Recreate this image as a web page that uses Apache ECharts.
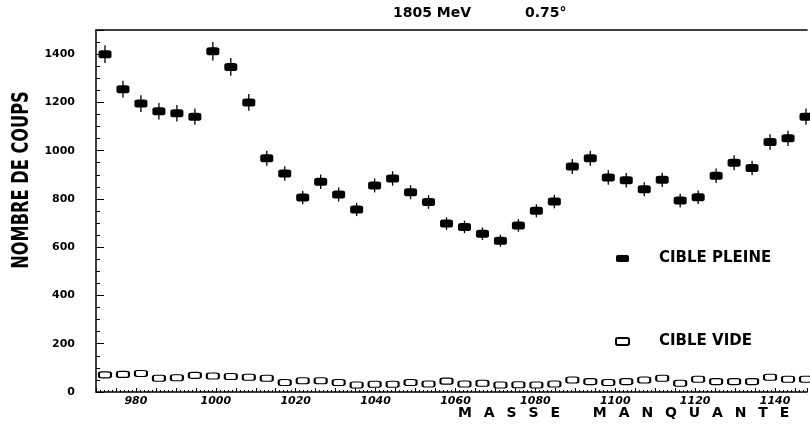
<!DOCTYPE html>
<html>
<head>
<meta charset="utf-8">
<script src="https://cdn.jsdelivr.net/npm/echarts@6/dist/echarts.min.js"></script>
<style>
html,body{margin:0;padding:0;background:#fff;}
#c{width:810px;height:426px;}
</style>
</head>
<body>
<div id="c"></div>
<script>
// bin centres (MeV)
var masses = [972.25, 976.75, 981.25, 985.75, 990.25, 994.75, 999.25, 1003.75, 1008.25, 1012.75,
  1017.25, 1021.75, 1026.25, 1030.75, 1035.25, 1039.75, 1044.25, 1048.75, 1053.25, 1057.75,
  1062.25, 1066.75, 1071.25, 1075.75, 1080.25, 1084.75, 1089.25, 1093.75, 1098.25, 1102.75,
  1107.25, 1111.75, 1116.25, 1120.75, 1125.25, 1129.75, 1134.25, 1138.75, 1143.25, 1147.75];
// full target counts
var pleine = [1400, 1255, 1195, 1163, 1155, 1141, 1412, 1347, 1200, 969,
  905, 806, 871, 818, 756, 856, 885, 828, 787, 698,
  684, 656, 627, 690, 751, 789, 934, 969, 889, 877,
  840, 879, 793, 807, 896, 950, 928, 1036, 1051, 1141];
// error bar half-lengths for full target
var erreurs = [37, 35, 35, 34, 34, 34, 38, 37, 35, 31,
  30, 28, 30, 29, 27, 29, 30, 29, 28, 26,
  26, 26, 25, 26, 27, 28, 31, 31, 30, 30,
  29, 30, 28, 28, 30, 31, 30, 32, 32, 34];
// empty target counts
var vide = [71, 73, 77, 57, 59, 69, 66, 64, 61, 57,
  39, 47, 47, 39, 29, 32, 32, 39, 33, 45,
  33, 36, 29, 30, 29, 33, 50, 43, 39, 43,
  50, 57, 36, 53, 43, 43, 43, 61, 53, 53];
var xTickLabels = [980, 1000, 1020, 1040, 1060, 1080, 1100, 1120, 1140];
var yTickLabels = [0, 200, 400, 600, 800, 1000, 1200, 1400];

var chart = echarts.init(document.getElementById('c'));
var FONT = '"DejaVu Sans", sans-serif';

var fullData = masses.map(function (m, i) { return [m, pleine[i]]; });
var errData = masses.map(function (m, i) { return [m, pleine[i] - erreurs[i], pleine[i] + erreurs[i]]; });
var emptyData = masses.map(function (m, i) { return [m, vide[i]]; });

function spaced(word) { return word.split('').join('\u2002 '); }

chart.setOption({
  animation: false,
  backgroundColor: '#fff',
  title: {
    text: '1805 MeV\u2003\u2003\u2003\u2002 0.75°',
    left: 388, top: 1,
    textStyle: { fontFamily: FONT, fontWeight: 'bold', fontSize: 14, color: '#000' }
  },
  grid: { left: 96, right: 0, top: 30, bottom: 34, show: false },
  legend: {
    orient: 'vertical', left: 615, top: 251, itemGap: 68, padding: 0,
    itemWidth: 13, itemHeight: 7,
    data: [{ name: 'CIBLE PLEINE', icon: 'roundRect' }, { name: 'CIBLE VIDE', icon: 'roundRect' }],
    textStyle: { fontFamily: FONT, fontWeight: 'bold', fontSize: 15, color: '#000', padding: [0, 0, 0, 25] }
  },
  xAxis: [{
    type: 'value', min: 970, max: 1148, interval: 5,
    axisLine: { lineStyle: { color: '#000', width: 1.5 } },
    axisTick: { inside: true, length: 4, lineStyle: { color: '#000' } },
    minorTick: { show: true, splitNumber: 5, length: 2, lineStyle: { color: '#000' } },
    splitLine: { show: false },
    axisLabel: {
      margin: 4, color: '#000', fontFamily: FONT, fontWeight: 'bold', fontStyle: 'italic', fontSize: 11,
      formatter: function (v) { return xTickLabels.indexOf(v) >= 0 ? String(v) : ''; }
    }
  }, {
    type: 'value', position: 'top', min: 970, max: 1148,
    axisLine: { show: true, lineStyle: { color: '#000', width: 1.5 } },
    axisTick: { show: false }, axisLabel: { show: false }, splitLine: { show: false }
  }],
  yAxis: {
    type: 'value', min: 0, max: 1500, interval: 200,
    axisLine: { show: true, lineStyle: { color: '#000', width: 1.5 } },
    axisTick: { inside: true, length: 8, lineStyle: { color: '#000' } },
    minorTick: { show: true, splitNumber: 4, length: 4, lineStyle: { color: '#000' } },
    splitLine: { show: false },
    axisLabel: {
      margin: 21, color: '#000', fontFamily: FONT, fontWeight: 'bold', fontSize: 11,
      formatter: function (v) { return yTickLabels.indexOf(v) >= 0 ? String(v) : ''; }
    }
  },
  graphic: [
    {
      type: 'text', x: 22, y: 180, rotation: Math.PI / 2, scaleY: 1.3,
      style: { text: 'NOMBRE DE COUPS', font: 'bold 18px "DejaVu Sans Condensed", sans-serif',
        fill: '#000', textAlign: 'center', textVerticalAlign: 'middle' }
    },
    {
      type: 'text', x: 458, y: 406,
      style: { text: spaced('MASSE') + '\u2003\u2003 ' + spaced('MANQUANTE'),
        font: 'bold 14px "DejaVu Sans", sans-serif', fill: '#000' }
    }
  ],
  series: [
    {
      name: 'erreurs', type: 'custom', data: errData, z: 2,
      renderItem: function (params, api) {
        var top = api.coord([api.value(0), api.value(2)]);
        var bot = api.coord([api.value(0), api.value(1)]);
        return { type: 'line', shape: { x1: top[0], y1: top[1], x2: bot[0], y2: bot[1] },
          style: { stroke: '#000', lineWidth: 1.3 } };
      },
      encode: { x: 0, y: [1, 2] }
    },
    {
      name: 'CIBLE PLEINE', type: 'scatter', data: fullData, z: 3,
      symbol: 'roundRect', symbolSize: [13, 8],
      itemStyle: { color: '#000', opacity: 1 }
    },
    {
      name: 'CIBLE VIDE', type: 'scatter', data: emptyData, z: 3,
      symbol: 'roundRect', symbolSize: [12, 6],
      itemStyle: { color: '#fff', borderColor: '#000', borderWidth: 1.5, opacity: 1 }
    }
  ]
});
</script>
</body>
</html>
